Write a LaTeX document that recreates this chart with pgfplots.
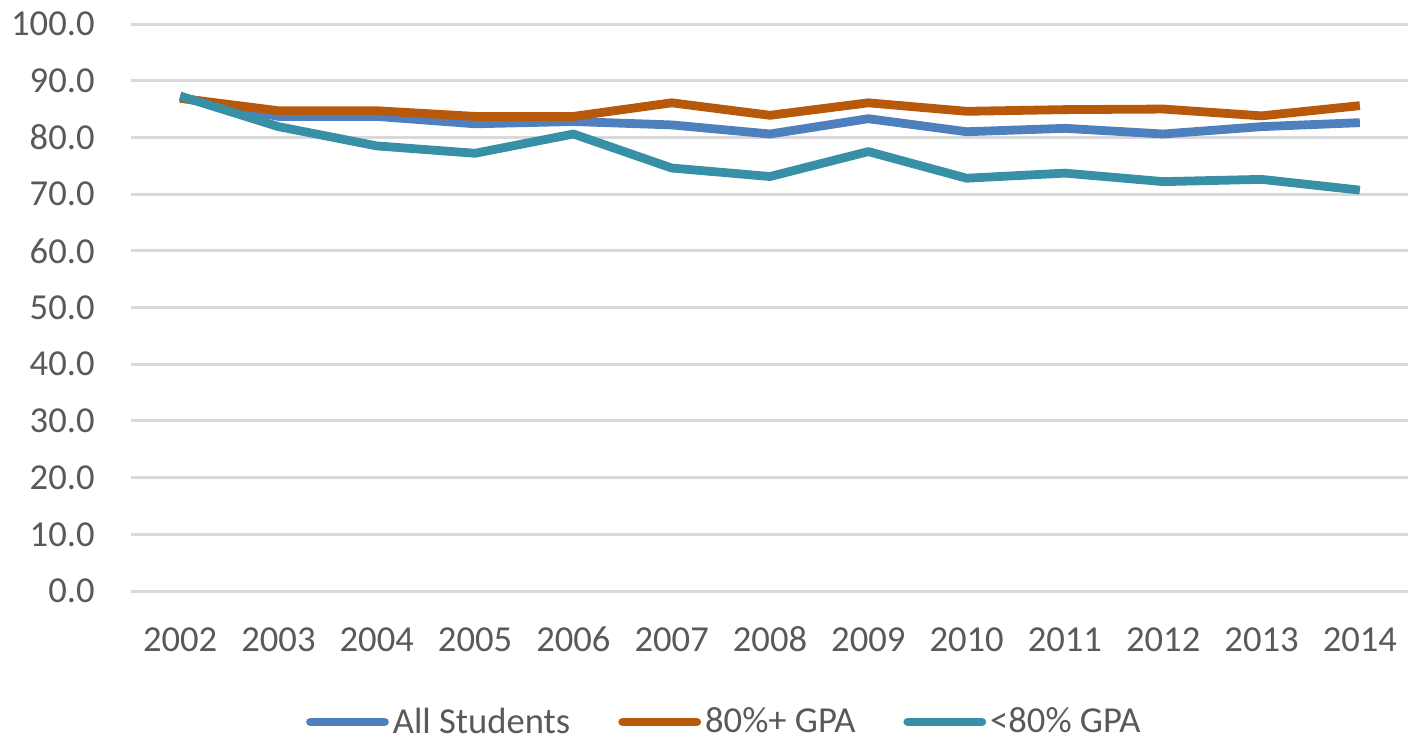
\documentclass[border=0pt]{standalone}
\usepackage{pgfplots}
\pgfplotsset{compat=1.18}
\usepackage{fontspec}
\setmainfont{Carlito}
\definecolor{serA}{HTML}{4E80BE}
\definecolor{serB}{HTML}{B8580A}
\definecolor{serC}{HTML}{3890A6}
\definecolor{txt}{HTML}{595959}
\definecolor{grd}{HTML}{D9D9D9}
\begin{document}
\begin{tikzpicture}
\useasboundingbox (-65.5pt,-75pt) rectangle (638.5pt,295.5pt);
\begin{axis}[
  at={(0,0)}, anchor=south west,
  scale only axis, width=639pt, height=283.5pt,
  xmin=2001.5, xmax=2014.5, ymin=0, ymax=100,
  xtick=data, ytick={0,10,...,100},
  axis line style={draw=none}, major tick length=0pt,
  ymajorgrids, grid style={line width=1.5pt, grd},
  font=\fontsize{18.3}{22}\selectfont, text=txt,
  /pgf/number format/assume math mode=true,
  yticklabel style={/pgf/number format/.cd, fixed, fixed zerofill, precision=1, /tikz/.cd, inner sep=0pt, anchor=east, xshift=-18pt},
  xticklabel style={/pgf/number format/.cd, set thousands separator={}, /tikz/.cd, anchor=base, yshift=-30pt},
  legend columns=3,
  legend style={at={(0.465,-0.231)}, anchor=center, draw=none, fill=none,
    /tikz/every even column/.style={column sep=22pt}, inner sep=0pt},
  legend cell align=left,
  legend image code/.code={\draw[#1, line cap=round] (0pt,0pt) -- (37pt,0pt);},
  every axis plot/.append style={line width=4.4pt, line join=round, no markers},
]
\addplot[serA] coordinates {
  (2002,87.0) (2003,83.7) (2004,83.7) (2005,82.4) (2006,82.8) (2007,82.2)
  (2008,80.6) (2009,83.3) (2010,81.0) (2011,81.6) (2012,80.6) (2013,81.9) (2014,82.6)
};
\addlegendentry{All Students}
\addplot[serB] coordinates {
  (2002,86.9) (2003,84.7) (2004,84.7) (2005,83.7) (2006,83.7) (2007,86.1)
  (2008,83.9) (2009,86.1) (2010,84.6) (2011,84.9) (2012,85.0) (2013,83.8) (2014,85.6)
};
\addlegendentry{80\%+ GPA}
\addplot[serC] coordinates {
  (2002,87.3) (2003,81.9) (2004,78.5) (2005,77.2) (2006,80.6) (2007,74.6)
  (2008,73.1) (2009,77.5) (2010,72.8) (2011,73.7) (2012,72.2) (2013,72.6) (2014,70.7)
};
\addlegendentry{<80\% GPA}
\end{axis}
\end{tikzpicture}
\end{document}
